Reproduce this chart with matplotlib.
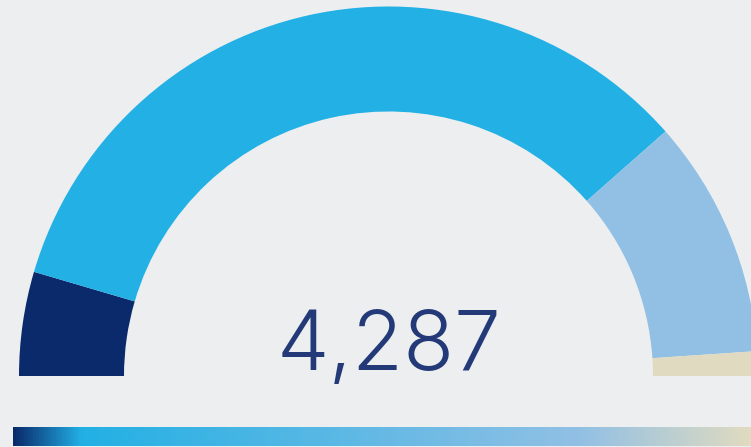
import matplotlib
matplotlib.use("Agg")
import matplotlib.pyplot as plt
from matplotlib.patches import Wedge
from matplotlib.colors import LinearSegmentedColormap
import numpy as np

# gauge data
segments = ["Low", "Normal", "Elevated", "High"]
values = [390, 2910, 895, 92]
colors = ["#0a2a6b", "#22b0e5", "#92c0e4", "#e0dbc0"]
total_label = "4,287"

bg = "#eceef0"

fig = plt.figure(figsize=(7.51, 4.47), dpi=100, facecolor=bg)
ax = fig.add_axes([0, 0, 1, 1])
ax.set_xlim(0, 751)
ax.set_ylim(0, 447)
ax.set_facecolor(bg)
ax.axis("off")

# half-donut, drawn from the left end clockwise
cx, cy = 388.5, 71
r_out, ring = 369.5, 105
total = sum(values)
start = 180.0
for v, c in zip(values, colors):
    span = 180.0 * v / total
    ax.add_patch(Wedge((cx, cy), r_out, start - span, start, width=ring,
                       facecolor=c, edgecolor="none", lw=0))
    start -= span

ax.text(cx, 77, total_label, ha="center", va="baseline", fontsize=60,
        family="Inter", fontweight=300, color="#243a78")

# gradient bar underneath, stops at cumulative shares
cum = np.cumsum(values) / total
stops = [(0.0, colors[0]), (cum[0], colors[1]), (cum[1], colors[2]), (1.0, colors[3])]
cmap = LinearSegmentedColormap.from_list("bar", stops)
grad = np.linspace(0, 1, 512).reshape(1, -1)
ax.imshow(grad, cmap=cmap, aspect="auto", extent=[13, 751, 1, 20], zorder=2)
ax.set_xlim(0, 751)
ax.set_ylim(0, 447)

fig.savefig("out.png", dpi=100, facecolor=bg)
